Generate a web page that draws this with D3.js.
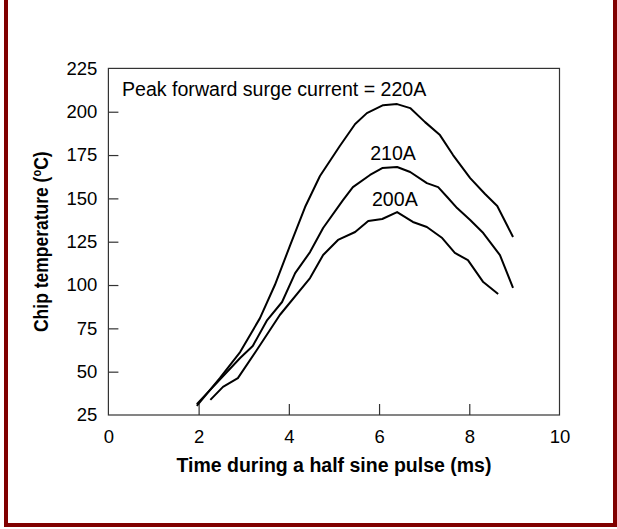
<!DOCTYPE html>
<html><head><meta charset="utf-8">
<script src="https://cdn.jsdelivr.net/npm/d3@7"></script>
<style>html,body{margin:0;padding:0;background:#fff;}svg{display:block;}</style>
</head><body>
<svg id="chart" width="617" height="529"></svg>
<script>
const xTicks = [0, 2, 4, 6, 8, 10];
const yTicks = [25, 50, 75, 100, 125, 150, 175, 200, 225];

const t220 = [1.96,2.47,2.92,3.36,3.69,4.03,4.36,4.69,5.13,5.47,5.73,6.09,6.40,6.69,7.02,7.35,7.64,8.02,8.35,8.62,8.97];
const v220 = [30.2,46.3,61.3,80.9,100,123,145,162.9,180.2,192.9,199.2,203.8,204.4,202.1,194,186.5,175,161.7,152.5,145.6,127.7];

const t210 = [1.96,2.92,3.20,3.52,3.85,4.14,4.47,4.76,5.20,5.42,5.80,6.07,6.40,6.69,7.06,7.31,7.51,7.73,8.02,8.31,8.68,8.97];
const v210 = [31.3,57.9,64.8,79.8,90.2,106.9,119,132.9,149,156.5,163.5,167.5,168.1,165.2,158.8,156.5,150.8,144.4,137.5,130,117.3,98.3];

const t200 = [2.26,2.54,2.87,3.29,3.80,4.47,4.76,5.09,5.47,5.76,6.07,6.40,6.75,7.06,7.40,7.68,7.97,8.31,8.64];
const v200 = [33.7,41.2,46.3,62.5,82.7,104,117.3,126,130.6,136.9,138.1,142.1,136.4,133.5,127.1,118.5,114.4,101.7,94.8];

const seriesNames = ["220A", "210A", "200A"];
const labelPos = [null, [6.31, 172], [6.35, 145.5]];
const annotation = "Peak forward surge current = 220A";
const xTitle = "Time during a half sine pulse (ms)";
const yTitle = "Chip temperature (";

const svg = d3.select("#chart");
const m = {l: 108.4, r: 559.5, t: 68.4, b: 415};
const font = "Liberation Sans, Arial, sans-serif";

// page border
svg.append("rect").attr("x", 6).attr("y", -10).attr("width", 609).attr("height", 535)
  .attr("fill", "none").attr("stroke", "#800000").attr("stroke-width", 4);

const x = d3.scaleLinear().domain([0, 10]).range([m.l, m.r]);
const y = d3.scaleLinear().domain([25, 225]).range([m.b, m.t]);

// frame
svg.append("rect").attr("x", m.l).attr("y", m.t).attr("width", m.r - m.l).attr("height", m.b - m.t)
  .attr("fill", "none").attr("stroke", "#333").attr("stroke-width", 1.2);

const xAxis = svg.append("g").attr("transform", `translate(0,${m.b})`)
  .call(d3.axisBottom(x).tickValues(xTicks).tickSizeInner(-11).tickSizeOuter(0).tickPadding(15).tickFormat(d3.format("d")));
const yAxis = svg.append("g").attr("transform", `translate(${m.l},0)`)
  .call(d3.axisLeft(y).tickValues(yTicks).tickSizeInner(-10).tickSizeOuter(0).tickPadding(11).tickFormat(d3.format("d")));
[xAxis, yAxis].forEach(g => {
  g.select(".domain").remove();
  g.selectAll(".tick line").attr("stroke", "#333").attr("stroke-width", 1.2)
    .attr("display", d => (d === 0 || d === 10 || d === 25 || d === 225) ? "none" : null);
  g.selectAll(".tick text").attr("fill", "#000").style("font-family", font).style("font-size", "18.5px");
});

const line = d3.line().x(d => x(d[0])).y(d => y(d[1]));
const data = [d3.zip(t220, v220), d3.zip(t210, v210), d3.zip(t200, v200)];
svg.append("g").selectAll("path").data(data).join("path")
  .attr("d", line).attr("fill", "none").attr("stroke", "#000").attr("stroke-width", 2).attr("stroke-linejoin", "round");

// labels
svg.append("text").attr("x", x(0.3)).attr("y", 96).text(annotation)
  .style("font-family", font).style("font-size", "19.6px").attr("fill", "#000");
seriesNames.forEach((n, i) => {
  if (!labelPos[i]) return;
  svg.append("text").attr("x", x(labelPos[i][0])).attr("y", y(labelPos[i][1])).attr("text-anchor", "middle")
    .text(n).style("font-family", font).style("font-size", "19.6px").attr("fill", "#000");
});

svg.append("text").attr("x", (m.l + m.r) / 2).attr("y", 472).attr("text-anchor", "middle")
  .text(xTitle).style("font-family", font).style("font-size", "19.5px").style("font-weight", "bold");

const yt = svg.append("text").attr("transform", `translate(48,${(m.t + m.b) / 2}) scale(1.2,1) rotate(-90)`)
  .attr("text-anchor", "middle").style("font-family", font).style("font-size", "17.5px").style("font-weight", "bold");
yt.append("tspan").text(yTitle);
yt.append("tspan").attr("dy", -6).style("font-size", "11px").text("o");
yt.append("tspan").attr("dy", 6).text("C)");
</script>
</body></html>
